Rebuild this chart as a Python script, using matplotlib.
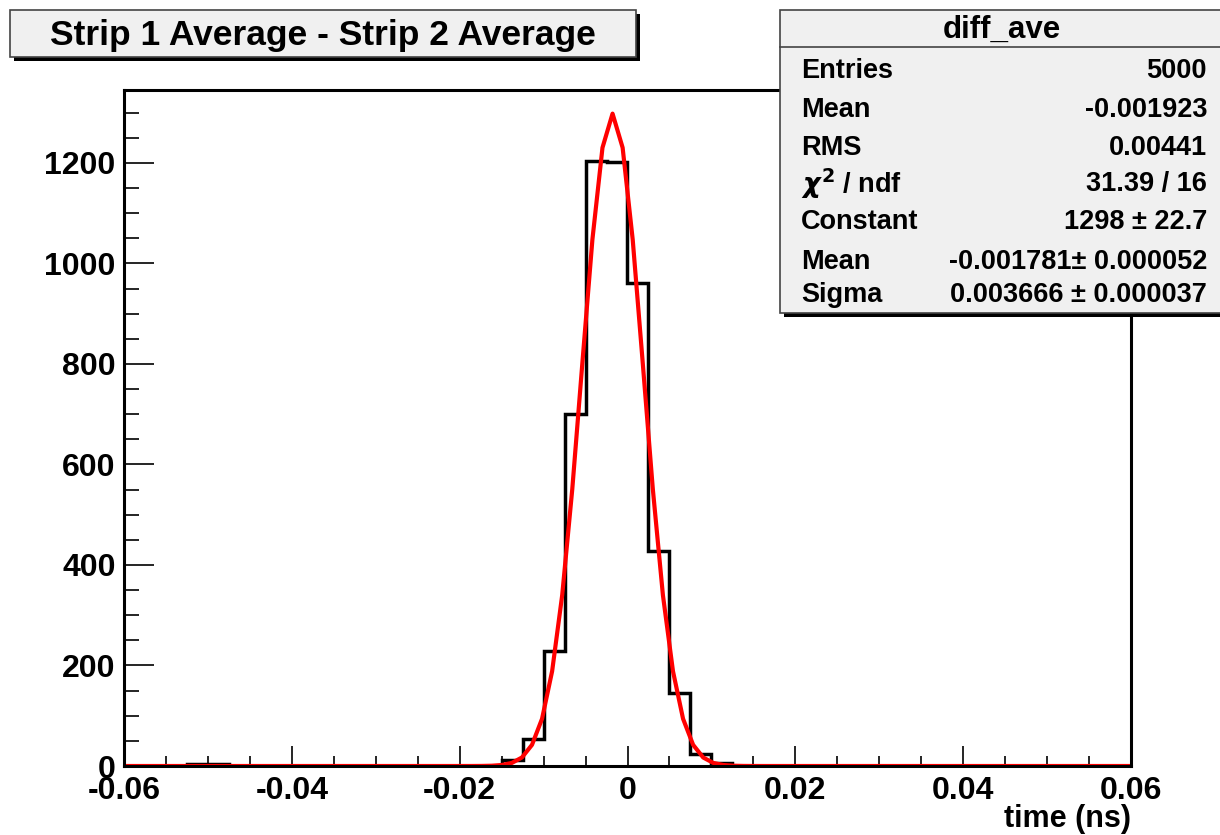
import numpy as np
import matplotlib.pyplot as plt
from matplotlib.patches import Rectangle

plt.rcParams['font.family'] = ['Liberation Sans', 'DejaVu Sans']
plt.rcParams['font.weight'] = 'bold'

# histogram: 48 bins of 0.0025 from -0.06 to 0.06
bin_edges = np.linspace(-0.06, 0.06, 49)
counts = np.zeros(48)
# non-empty bins (left edge -> count)
filled_left = [-0.0525, -0.05, -0.015, -0.0125, -0.01, -0.0075, -0.005, -0.0025,
               0.0, 0.0025, 0.005, 0.0075, 0.01]
filled_counts = [3, 3, 12, 54, 228, 701, 1204, 1202, 961, 428, 145, 24, 5]
for lo, c in zip(filled_left, filled_counts):
    counts[int(round((lo + 0.06) / 0.0025))] = c

# gaussian fit parameters
fit_const = 1298.0
fit_mean = -0.001781
fit_sigma = 0.003666

title = 'Strip 1 Average - Strip 2 Average'
stats_name = 'diff_ave'
stats_labels = ['Entries', 'Mean', 'RMS', r'$\chi^{2}$ / ndf', 'Constant', 'Mean', 'Sigma']
stats_values = ['5000', '-0.001923', '0.00441', '31.39 / 16', '1298 \u00b1 22.7',
                '-0.001781\u00b1 0.000052', '0.003666 \u00b1 0.000037']

W, H = 1220, 835
fig = plt.figure(figsize=(W / 100, H / 100), dpi=100)
ax = fig.add_axes([124 / W, (H - 766) / H, (1131 - 124) / W, (766 - 90) / H])

ax.stairs(counts, bin_edges, color='black', linewidth=2.5)

# fit function drawn as a polyline, like ROOT's npx=100 sampling
step = 0.12 / 100
k = np.arange(-60, 61)
xf = fit_mean + k * step
xf = xf[(xf >= -0.06) & (xf <= 0.06)]
xf = np.concatenate([[-0.06], xf, [0.06]])
yf = fit_const * np.exp(-0.5 * ((xf - fit_mean) / fit_sigma) ** 2)
ax.plot(xf, yf, color='red', linewidth=3)

ax.set_xlim(-0.06, 0.06)
ax.set_ylim(0, 1345)
ax.set_xticks(np.arange(-0.06, 0.061, 0.02))
ax.set_xticklabels(['-0.06', '-0.04', '-0.02', '0', '0.02', '0.04', '0.06'])
ax.set_xticks(np.arange(-0.06, 0.0601, 0.005), minor=True)
ax.set_yticks(np.arange(0, 1201, 200))
ax.set_yticks(np.arange(0, 1301, 50), minor=True)
ax.tick_params(axis='both', which='both', direction='in', top=False, right=False,
               labelsize=23, width=1.2)
ax.tick_params(axis='x', which='major', length=14.5, pad=7)
ax.tick_params(axis='x', which='minor', length=7)
ax.tick_params(axis='y', which='major', length=21.5, pad=6)
ax.tick_params(axis='y', which='minor', length=11)
for lab in ax.get_xticklabels() + ax.get_yticklabels():
    lab.set_fontweight('bold')
for s in ax.spines.values():
    s.set_linewidth(2.2)

fig.text(1131 / W, 1 - 819 / H, 'time (ns)', ha='right', va='center',
         fontsize=22, fontweight='bold')

# overlay in pixel coordinates for the title and stats boxes
ov = fig.add_axes([0, 0, 1, 1], zorder=5)
ov.set_xlim(0, W)
ov.set_ylim(H, 0)
ov.axis('off')

# title box with shadow
ov.add_patch(Rectangle((14, 14), 626, 47, facecolor='black', edgecolor='none'))
ov.add_patch(Rectangle((10, 10), 626, 47, facecolor='#f0f0f0', edgecolor='#444444', linewidth=1.2))
ov.text(323, 35, title, ha='center', va='center', fontsize=25.5, fontweight='bold')

# stats box with shadow
ov.add_patch(Rectangle((784, 14), 440, 303, facecolor='black', edgecolor='none'))
ov.add_patch(Rectangle((780, 10), 445, 303, facecolor='#f0f0f0', edgecolor='#444444', linewidth=1.2))
ov.plot([780, 1220], [47, 47], color='#444444', linewidth=1.2)
ov.text(1002, 30, stats_name, ha='center', va='center', fontsize=22.5, fontweight='bold')
row_y = [71, 110, 148, 184, 222, 262, 295]
for yy, lab, val in zip(row_y, stats_labels, stats_values):
    ov.text(801, yy, lab, ha='left', va='center', fontsize=19.5, fontweight='bold')
    ov.text(1207, yy, val, ha='right', va='center', fontsize=19.5, fontweight='bold')

fig.savefig('out.png', dpi=100)
